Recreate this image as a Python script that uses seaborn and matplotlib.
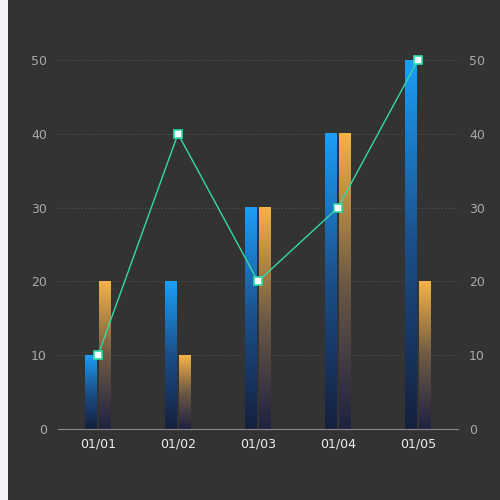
import numpy as np
import pandas as pd
import matplotlib
matplotlib.use("Agg")
import matplotlib.pyplot as plt
import seaborn as sns
from matplotlib.colors import LinearSegmentedColormap
from matplotlib.patches import Rectangle

# data
dates = ["01/01", "01/02", "01/03", "01/04", "01/05"]
bar_a = [10, 20, 30, 40, 50]
bar_b = [20, 10, 30, 40, 20]
line_vals = [10, 40, 20, 30, 50]

BG = "#333333"
sns.set_theme(style="dark")
plt.rcParams["font.family"] = ["DejaVu Sans"]

fig = plt.figure(figsize=(5, 5), dpi=100, facecolor=BG)
# light strip on the left edge
fig.patches.append(Rectangle((0, 0), 8 / 500, 1, transform=fig.transFigure,
                             facecolor="#f3f4f8", edgecolor="none", zorder=-1))
ax = fig.add_axes([0.116, 0.142, 0.8, 0.738])
ax.set_facecolor(BG)

df = pd.DataFrame({
    "date": dates * 2,
    "value": bar_a + bar_b,
    "series": ["a"] * len(dates) + ["b"] * len(dates),
})
sns.barplot(data=df, x="date", y="value", hue="series", ax=ax,
            width=0.35, gap=0.15, legend=False, palette=["#1e9ef5", "#f5b346"])

cmaps = {
    "a": LinearSegmentedColormap.from_list("blue", ["#15203e", "#1a4f8a", "#1e9ef5"]),
    "b": LinearSegmentedColormap.from_list("orange", ["#1e2240", "#6e5a44", "#f5b346"]),
}
grad = np.linspace(0, 1, 256).reshape(-1, 1)
for i, p in enumerate(ax.patches):
    x0, y0 = p.get_x(), p.get_y()
    w, h = p.get_width(), p.get_height()
    if h <= 0:
        continue
    key = "a" if i < len(dates) else "b"
    ax.imshow(grad, extent=(x0, x0 + w, y0, y0 + h), origin="lower",
              aspect="auto", cmap=cmaps[key], zorder=2)
    p.set_visible(False)

ax.plot(range(len(dates)), line_vals, color="#33d9a8", lw=1, zorder=4,
        marker="s", markersize=5.5, markerfacecolor="white",
        markeredgecolor="#33d9a8", markeredgewidth=1.2, clip_on=False)

ax.set_xlim(-0.5, len(dates) - 0.5)
ax.set_ylim(0, 50)
ax.set_yticks([0, 10, 20, 30, 40, 50])
ax.set_xlabel("")
ax.set_ylabel("")
ax.grid(axis="y", color="#555555", linestyle=(0, (1, 2)), lw=0.8)
ax.grid(axis="x", visible=False)
for s in ["top", "left", "right"]:
    ax.spines[s].set_visible(False)
ax.spines["bottom"].set_color("#8a8a8a")
ax.spines["bottom"].set_linewidth(0.8)
ax.tick_params(axis="x", colors="#eeeeee", labelsize=9, length=0, pad=6)
ax.tick_params(axis="y", colors="#aaaaaa", labelsize=9, length=0, pad=8)

ax2 = ax.twinx()
ax2.set_ylim(0, 50)
ax2.set_yticks([0, 10, 20, 30, 40, 50])
ax2.grid(False)
for s in ax2.spines.values():
    s.set_visible(False)
ax2.tick_params(axis="y", colors="#aaaaaa", labelsize=9, length=0, pad=8)

fig.savefig("out.png", dpi=100, facecolor=BG)
